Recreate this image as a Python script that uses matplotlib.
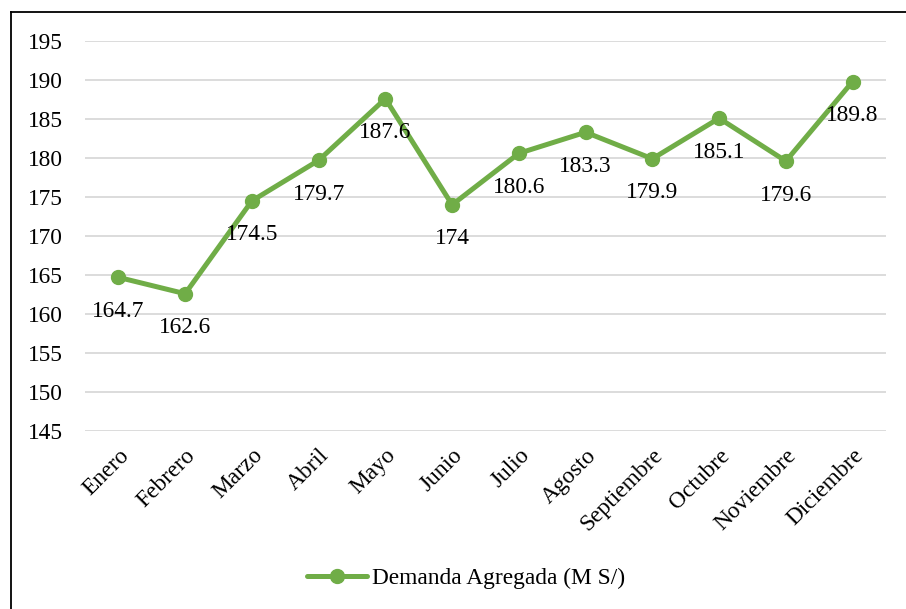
import matplotlib
matplotlib.use("Agg")
import matplotlib.pyplot as plt
from matplotlib.lines import Line2D

months = ["Enero", "Febrero", "Marzo", "Abril", "Mayo", "Junio", "Julio",
          "Agosto", "Septiembre", "Octubre", "Noviembre", "Diciembre"]
demanda = [164.7, 162.6, 174.5, 179.7, 187.6, 174.0, 180.6, 183.3, 179.9, 185.1, 179.6, 189.8]
value_labels = ["164.7", "162.6", "174.5", "179.7", "187.6", "174", "180.6",
                "183.3", "179.9", "185.1", "179.6", "189.8"]
yticks = [145, 150, 155, 160, 165, 170, 175, 180, 185, 190, 195]
series_name = "Demanda Agregada (M S/)"

plt.rcParams['font.family'] = ['Liberation Serif', 'DejaVu Serif']
color = "#70AD47"
fs = 16.8

fig = plt.figure(figsize=(9.06, 6.09), dpi=100)
ax = fig.add_axes([85/906, 1-431/609, (886-85)/906, (431-41)/609])

x = list(range(len(months)))
ax.plot(x, demanda, color=color, lw=3.6, marker='o', markersize=10,
        solid_capstyle='round', solid_joinstyle='round', label=series_name, zorder=3)

for xi, yi, lab in zip(x, demanda, value_labels):
    ax.annotate(lab, (xi, yi), xytext=(0, -24.5), textcoords='offset points',
                ha='center', va='center', fontsize=fs, color='black', zorder=4)

ax.set_xlim(-0.5, len(months) - 0.5)
ax.set_ylim(145, 195)
ax.set_yticks(yticks)
ax.set_yticklabels([str(t) for t in yticks], fontsize=fs)
ax.set_xticks(x)
ax.set_xticklabels(months, fontsize=fs, rotation=45, ha='right', rotation_mode='anchor')
ax.tick_params(axis='y', length=0, pad=16)
ax.tick_params(axis='x', length=0, pad=10)
ax.grid(axis='y', color='#D9D9D9', lw=1.3)
ax.set_axisbelow(True)
for s in ax.spines.values():
    s.set_visible(False)

fig.legend(loc='center', bbox_to_anchor=(466/906, 1-578/609), frameon=False,
           fontsize=fs, handlelength=2.6, handletextpad=0.2)

# figure frame (top and left edges visible)
fig.add_artist(Line2D([11/906, 11/906], [0, 1-12/609], transform=fig.transFigure,
                      color='black', lw=1.3))
fig.add_artist(Line2D([11/906, 1], [1-12/609, 1-12/609], transform=fig.transFigure,
                      color='black', lw=1.3))

fig.savefig("out.png", dpi=100)
